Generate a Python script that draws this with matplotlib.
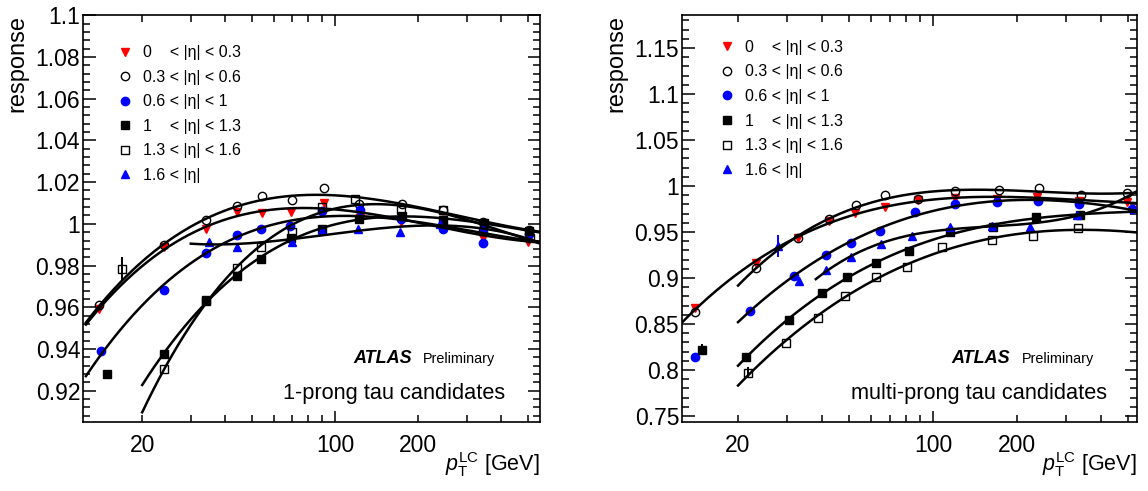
import numpy as np
import matplotlib
matplotlib.use("Agg")
import matplotlib.pyplot as plt
from matplotlib.ticker import FixedLocator, FuncFormatter, MultipleLocator

plt.rcParams["font.family"] = ["Liberation Sans", "DejaVu Sans"]
plt.rcParams["mathtext.fontset"] = "custom"
plt.rcParams["mathtext.rm"] = "Liberation Sans"
plt.rcParams["mathtext.it"] = "Liberation Sans:italic"
plt.rcParams["mathtext.bf"] = "Liberation Sans:bold"

# eta bins (same for both panels)
eta_labels = ["0    < |η| < 0.3", "0.3 < |η| < 0.6", "0.6 < |η| < 1",
              "1    < |η| < 1.3", "1.3 < |η| < 1.6", "1.6 < |η|"]
colors = ["#ff0000", "black", "#0000ff", "black", "black", "#0000ff"]
markers = ["v", "o", "o", "s", "s", "^"]
filled = [True, False, True, True, False, True]
msizes = [6, 6, 6, 5.5, 5.5, 6]

# 1-prong candidates
pt_1p = [
    [14.0, 24, 34, 44, 54.5, 69.5, 91, 123, 174, 247, 345, 502],
    [14.0, 24, 34, 44, 54.5, 70, 91.5, 122, 175, 247, 345, 505],
    [14.2, 24, 34, 44, 54, 68.5, 90, 123, 174, 247, 343, 505],
    [14.9, 24, 34, 44, 54, 69, 90, 122, 175, 247, 347, 505],
    [16.9, 24, 34, 44, 54, 70, 90, 118, 174, 247, 345, 510],
    [35, 44, 70, 90, 121, 172, 240, 343],
]
resp_1p = [
    [0.959, 0.989, 0.9974, 1.0055, 1.0053, 1.0057, 1.0099, 1.003, 1.001, 1.002, 0.993, 0.9914],
    [0.9611, 0.9898, 1.0018, 1.0083, 1.0133, 1.0116, 1.0172, 1.0096, 1.0093, 1.0065, 1.001, 0.997],
    [0.9389, 0.9681, 0.986, 0.9946, 0.9974, 0.999, 1.0063, 1.0067, 1.0023, 0.9977, 0.9909, 0.995],
    [0.9278, 0.9377, 0.9633, 0.9751, 0.9833, 0.993, 0.9974, 1.0023, 1.0039, 1.002, 1.0006, 0.9966],
    [0.9784, 0.9302, 0.9628, 0.979, 0.9888, 0.9963, 1.008, 1.012, 1.0067, 1.0067, 0.9966, 0.9933],
    [0.9912, 0.9888, 0.9912, 0.9971, 0.9977, 0.9962, 0.9998, 0.9979],
]
err_1p = [
    [0.0] * 12,
    [0.0] * 12,
    [0.0] * 12,
    [0.002] + [0.0] * 11,
    [0.0055] + [0.0] * 11,
    [0.0] * 8,
]
fit_lo_1p = [12.5, 12.5, 12.5, 20, 20, 30]

# multi-prong candidates
pt_3p = [
    [14.06, 23.2, 32.8, 42.3, 52.7, 67.1, 88, 120, 170, 235, 334, 494],
    [14.06, 23.2, 32.8, 42.5, 52.9, 67.3, 88.6, 120, 172, 240, 339, 494],
    [14.0, 22.1, 31.7, 41.2, 51.0, 64.4, 86.2, 120, 169, 238, 334, 518],
    [14.9, 21.4, 30.4, 40.0, 49.2, 62.4, 81.8, 115, 164, 234, 336],
    [21.8, 29.8, 38.7, 48.2, 62.4, 80.7, 107.7, 162, 229, 330],
    [27.8, 33.1, 41.5, 51, 65.3, 84.1, 115, 162, 223, 329],
]
resp_3p = [
    [0.8672, 0.916, 0.9437, 0.9617, 0.9704, 0.977, 0.985, 0.9867, 0.986, 0.9886, 0.9842, 0.9824],
    [0.8628, 0.9111, 0.9437, 0.9643, 0.9799, 0.9906, 0.986, 0.9943, 0.9959, 0.9976, 0.9904, 0.9922],
    [0.8147, 0.8647, 0.9027, 0.9252, 0.9378, 0.9516, 0.9715, 0.9807, 0.9832, 0.9835, 0.9807, 0.9752],
    [0.8223, 0.8139, 0.8549, 0.8839, 0.9016, 0.9161, 0.9299, 0.9498, 0.956, 0.9668, 0.9687],
    [0.797, 0.8296, 0.8567, 0.8802, 0.9016, 0.9125, 0.9342, 0.9415, 0.9462, 0.9546],
    [0.9353, 0.8965, 0.9089, 0.9226, 0.9372, 0.9462, 0.956, 0.9571, 0.956, 0.969],
]
err_3p = [
    [0.0] * 12,
    [0.0] * 12,
    [0.0] * 12,
    [0.006] + [0.0] * 10,
    [0.006] + [0.0] * 9,
    [0.012] + [0.0] * 9,
]
fit_lo_3p = [12.5, 20, 20, 20, 20, 38]


def tick_fmt(v, pos):
    return f"{v:.3f}".rstrip("0").rstrip(".")


def draw_panel(ax, pts, resps, errs, fit_lo, xlim, ylim, ystep, yminor,
               title, leg_anchor, title_x):
    handles = []
    for i in range(6):
        x = np.array(pts[i])
        y = np.array(resps[i])
        c = ax.errorbar(x, y, yerr=errs[i], fmt=markers[i], color=colors[i],
                        mfc=colors[i] if filled[i] else "none", mec=colors[i],
                        mew=1.0, ms=msizes[i], elinewidth=1.4, capsize=0,
                        zorder=3)
        handles.append(c[0])
        # cubic fit in log(pT) over the fitted range
        sel = x >= fit_lo[i]
        coef = np.polyfit(np.log10(x[sel]), y[sel], 3)
        xs = np.logspace(np.log10(fit_lo[i]), np.log10(xlim[1]), 200)
        ax.plot(xs, np.polyval(coef, np.log10(xs)), color="black", lw=1.8,
                zorder=4)

    ax.set_xscale("log")
    ax.set_xlim(*xlim)
    ax.set_ylim(*ylim)

    ax.xaxis.set_major_locator(FixedLocator([100]))
    ax.xaxis.set_minor_locator(FixedLocator([20, 30, 40, 50, 60, 70, 80, 90,
                                             200, 300, 400, 500]))
    ax.xaxis.set_major_formatter(FuncFormatter(lambda v, p: "100"))
    ax.xaxis.set_minor_formatter(
        FuncFormatter(lambda v, p: f"{v:.0f}" if round(v) in (20, 200) else ""))
    ax.yaxis.set_major_locator(MultipleLocator(ystep))
    ax.yaxis.set_minor_locator(MultipleLocator(yminor))
    ax.yaxis.set_major_formatter(FuncFormatter(tick_fmt))

    ax.tick_params(which="both", direction="in", top=True, right=True,
                   width=1.1)
    ax.tick_params(axis="y", which="major", length=9, labelsize=16.5, pad=2)
    ax.tick_params(axis="y", which="minor", length=5)
    ax.tick_params(axis="x", which="major", length=8, labelsize=16.5, pad=8.5)
    ax.tick_params(axis="x", which="minor", length=5, labelsize=16.5, pad=8.5)
    for s in ax.spines.values():
        s.set_linewidth(1.2)

    ax.set_ylabel("response", loc="top", fontsize=17)
    ax.yaxis.set_label_coords(-0.12, 1.0)
    ax.set_xlabel(r"$p_{\rm T}^{\rm LC}$ [GeV]", loc="right", fontsize=15.5)
    ax.xaxis.set_label_coords(1.0, -0.068)

    ax.legend(handles, eta_labels, loc="upper left", bbox_to_anchor=leg_anchor,
              frameon=False, fontsize=11.5, handlelength=0.8,
              handletextpad=0.7, labelspacing=0.6, borderpad=0,
              borderaxespad=0, numpoints=1)

    ax.text(title_x[0], 0.144, "ATLAS", transform=ax.transAxes, fontsize=13,
            fontweight="bold", fontstyle="italic", va="baseline")
    ax.text(title_x[1], 0.144, "Preliminary", transform=ax.transAxes,
            fontsize=10.4, va="baseline")
    ax.text(title_x[2], 0.056, title, transform=ax.transAxes, fontsize=15.7,
            ha="right", va="baseline")


fig = plt.figure(figsize=(11.48, 4.91), dpi=100)
ax1 = fig.add_axes([0.0723, 0.1405, 0.3981, 0.829])
ax2 = fig.add_axes([0.5941, 0.1405, 0.3963, 0.829])

draw_panel(ax1, pt_1p, resp_1p, err_1p, fit_lo_1p, (12.2, 554),
           (0.905, 1.1001), 0.02, 0.004, "1-prong tau candidates",
           (0.078, 0.926), (0.591, 0.744, 0.923))
draw_panel(ax2, pt_3p, resp_3p, err_3p, fit_lo_3p, (12.6, 538),
           (0.7435, 1.186), 0.05, 0.01, "multi-prong tau candidates",
           (0.085, 0.939), (0.593, 0.747, 0.934))

fig.savefig("out.png", dpi=100)
